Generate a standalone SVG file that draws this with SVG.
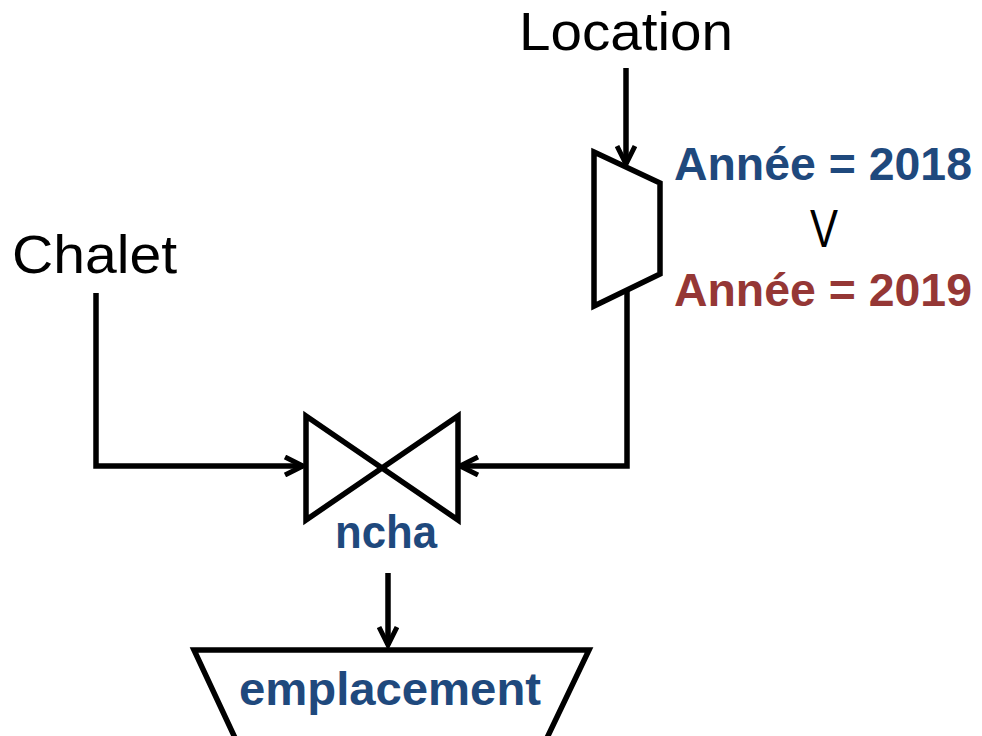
<svg xmlns="http://www.w3.org/2000/svg" width="982" height="736" viewBox="0 0 982 736">
<style>
.ln{fill:none;stroke:#000;stroke-width:5.5;stroke-linejoin:miter}
.sh{fill:#fff;stroke:#000;stroke-width:5.5;stroke-linejoin:miter}
.lab{font-family:"Liberation Sans",Arial,sans-serif;fill:#000}
.b{font-family:"Liberation Sans",Arial,sans-serif;font-weight:bold}
.blue{fill:#1F497D}
.red{fill:#953735}
</style>
<defs>
<marker id="arr" viewBox="0 0 24 22" refX="21" refY="11" markerWidth="24" markerHeight="22" markerUnits="userSpaceOnUse" orient="auto">
<path d="M3,2 L21,11 L3,20" fill="none" stroke="#000" stroke-width="5"/>
</marker>
</defs>
<rect width="982" height="736" fill="#fff"/>
<g id="connectors">
<line class="ln" x1="626" y1="68" x2="626" y2="164" marker-end="url(#arr)"/>
<polyline class="ln" points="627,290 627,466 460,466" marker-end="url(#arr)"/>
<polyline class="ln" points="96,293 96,466 303,466" marker-end="url(#arr)"/>
<line class="ln" x1="388" y1="573" x2="388" y2="645" marker-end="url(#arr)"/>
</g>
<g id="Location"><text class="lab" x="519" y="50" font-size="53" textLength="214" lengthAdjust="spacingAndGlyphs">Location</text></g>
<g id="Chalet"><text class="lab" x="12" y="273" font-size="53" textLength="165" lengthAdjust="spacingAndGlyphs">Chalet</text></g>
<g id="selection">
<polygon class="sh" points="594,152 660,183 660,274 594,306"/>
<text class="b blue" x="674" y="180" font-size="46" textLength="298" lengthAdjust="spacingAndGlyphs">Année = 2018</text>
<text class="lab" x="810" y="247" font-size="54" textLength="28" lengthAdjust="spacingAndGlyphs">V</text>
<text class="b red" x="674" y="306" font-size="46" textLength="298" lengthAdjust="spacingAndGlyphs">Année = 2019</text>
</g>
<g id="join">
<polygon class="sh" points="306,416 458,520 458,416 306,520"/>
<text class="b blue" x="335" y="548" font-size="46" textLength="102" lengthAdjust="spacingAndGlyphs">ncha</text>
</g>
<g id="emplacement">
<polygon class="sh" points="194,650 589,650 546,740 236,740"/>
<text class="b blue" x="239" y="705" font-size="46" textLength="302" lengthAdjust="spacingAndGlyphs">emplacement</text>
</g>
</svg>
